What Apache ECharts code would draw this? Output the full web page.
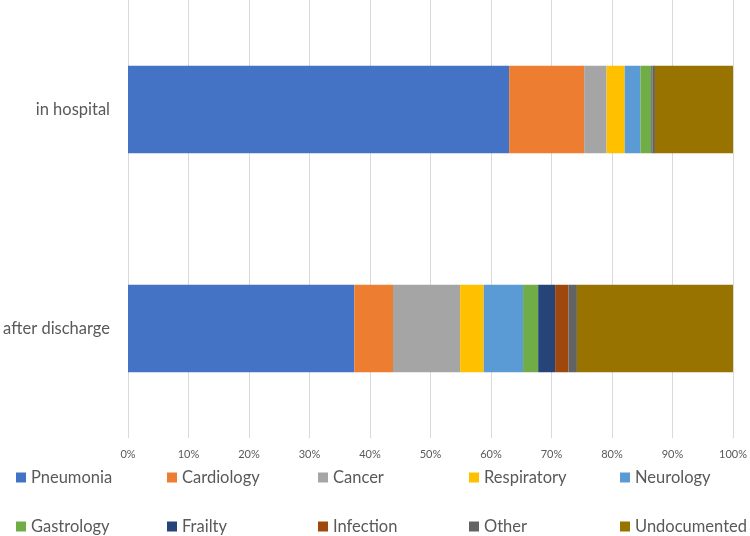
<!DOCTYPE html>
<html><head><meta charset="utf-8">
<script src="https://cdn.jsdelivr.net/npm/echarts@6/dist/echarts.min.js"></script>
<style>html,body{margin:0;padding:0;background:#fff}#c{width:750px;height:536px}</style>
</head><body><div id="c"></div>
<script>
const categories = ['in hospital', 'after discharge'];
const seriesNames = ['Pneumonia','Cardiology','Cancer','Respiratory','Neurology','Gastrology','Frailty','Infection','Other','Undocumented'];
const pneumonia = [63.0, 37.4];
const cardiology = [12.4, 6.4];
const cancer = [3.7, 11.1];
const respiratory = [3.0, 3.9];
const neurology = [2.6, 6.5];
const gastrology = [1.8, 2.5];
const frailty = [0.1, 2.8];
const infection = [0.1, 2.2];
const other = [0.4, 1.4];
const undocumented = [12.9, 25.8];
const xTicks = [0,10,20,30,40,50,60,70,80,90,100];
const values = [pneumonia, cardiology, cancer, respiratory, neurology, gastrology, frailty, infection, other, undocumented];
const colors = ['#4472C4','#ED7D31','#A5A5A5','#FFC000','#5B9BD5','#70AD47','#264478','#9E480E','#636363','#997300'];
const font = 'Lato, "Open Sans", sans-serif';

const chart = echarts.init(document.getElementById('c'));
const legends = seriesNames.map((n, i) => ({
  data: [n],
  left: 16 + (i % 5) * 151,
  top: i < 5 ? 469 : 518,
  height: 20,
  itemWidth: 10, itemHeight: 10, itemGap: 0,
  icon: 'rect',
  padding: 0,
  textStyle: { fontFamily: font, fontSize: 16.5, fontWeight: 400, color: '#595959', padding: [0,0,0,0] },
  selectedMode: false
}));
chart.setOption({
  animation: false,
  color: colors,
  grid: { left: 128, right: 17, top: 0, height: 438, containLabel: false },
  legend: legends,
  xAxis: {
    type: 'value', min: 0, max: 100, interval: 10,
    axisLabel: { formatter: v => v + '%', fontFamily: font, fontSize: 11, color: '#595959', margin: 11 },
    splitLine: { lineStyle: { color: '#D9D9D9', width: 1 } },
    axisLine: { show: false }, axisTick: { show: false }
  },
  yAxis: {
    type: 'category', data: categories, inverse: true,
    axisLabel: { fontFamily: font, fontSize: 16.5, fontWeight: 400, color: '#595959', margin: 18 },
    axisLine: { show: false }, axisTick: { show: false }
  },
  series: seriesNames.map((n, i) => ({
    name: n, type: 'bar', stack: 'total', barWidth: '40%',
    data: values[i]
  }))
});
</script></body></html>
